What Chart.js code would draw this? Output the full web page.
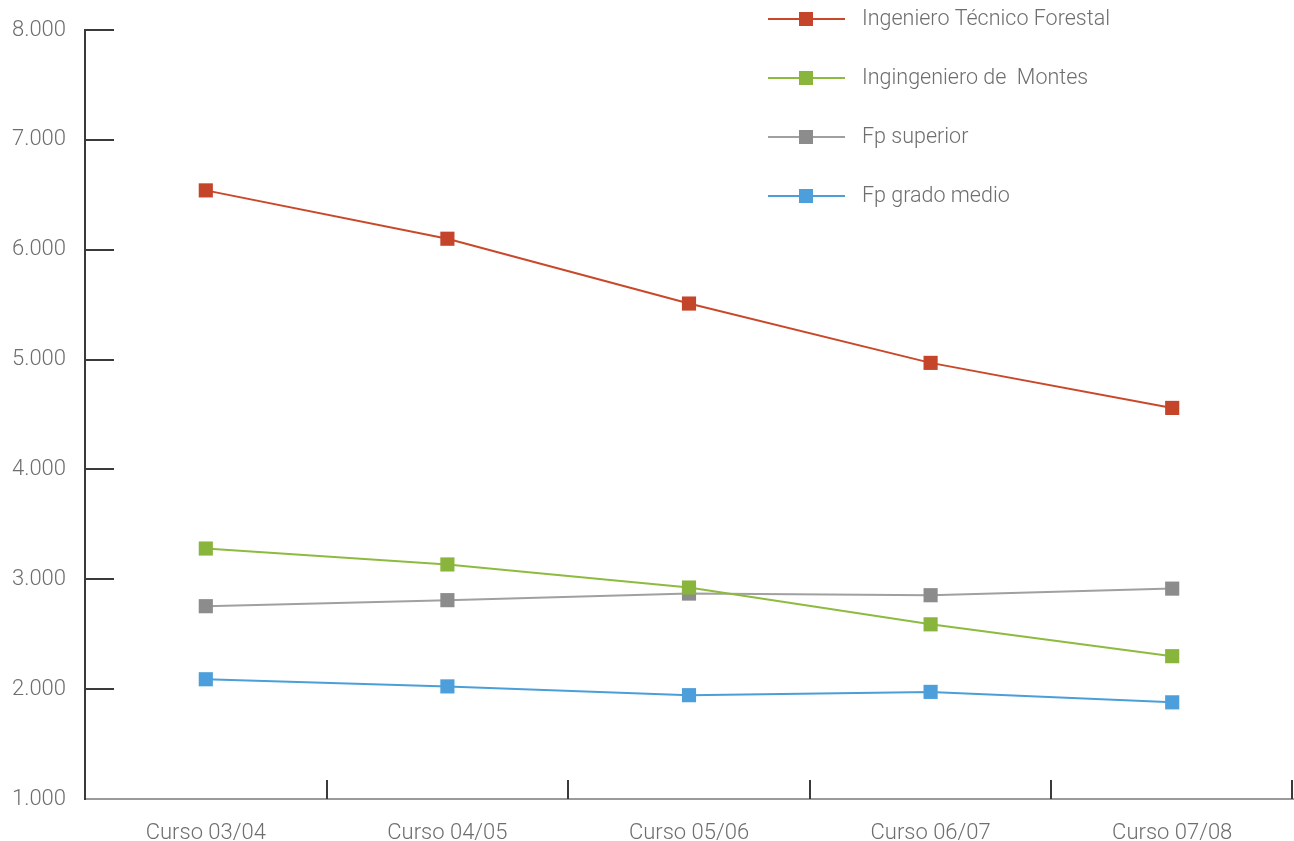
<!DOCTYPE html>
<html>
<head>
<meta charset="utf-8">
<script src="https://cdn.jsdelivr.net/npm/chart.js@4"></script>
<style>
  html, body { margin: 0; padding: 0; background: #fff; overflow: hidden; }
  #wrap { width: 1294px; height: 841px; position: relative; }
</style>
</head>
<body>
<div id="wrap"><canvas id="myChart"></canvas></div>
<script>
// Datos
const cursos = ['Curso 03/04', 'Curso 04/05', 'Curso 05/06', 'Curso 06/07', 'Curso 07/08'];
const series = ['Ingeniero Técnico Forestal', 'Ingingeniero de  Montes', 'Fp superior', 'Fp grado medio'];
const tecnicoForestal = [6540, 6100, 5510, 4970, 4560];
const ingMontes = [3280, 3135, 2925, 2590, 2300];
const fpSuperior = [2755, 2810, 2870, 2855, 2915];
const fpGradoMedio = [2090, 2025, 1945, 1975, 1880];

const lineColors = ['#c9482a', '#8dbb3f', '#a0a0a0', '#4a9fd9'];
const pointColors = ['#c4452a', '#8ab53d', '#8c8c8d', '#4c9fdb'];
const valores = [tecnicoForestal, ingMontes, fpSuperior, fpGradoMedio];

const FONT = '"Helvetica Neue", Roboto, "Liberation Sans", sans-serif';

// Marcas de los ejes dibujadas hacia dentro
const tickMarks = {
    id: 'tickMarks',
    afterDraw(chart) {
        const ctx = chart.ctx;
        const x = chart.scales.x, y = chart.scales.y;
        const area = chart.chartArea;
        ctx.save();
        ctx.strokeStyle = '#3a3a3a';
        ctx.lineWidth = 2;
        y.ticks.forEach(t => {
            const py = Math.round(y.getPixelForValue(t.value));
            if (py >= area.bottom - 1) return;
            ctx.beginPath();
            ctx.moveTo(area.left, py);
            ctx.lineTo(area.left + 29, py);
            ctx.stroke();
        });
        const half = (x.getPixelForValue(1) - x.getPixelForValue(0)) / 2;
        for (let i = 0; i < cursos.length; i++) {
            const px = Math.round(x.getPixelForValue(i) + half);
            ctx.beginPath();
            ctx.moveTo(Math.min(px, area.right - 1), area.bottom);
            ctx.lineTo(Math.min(px, area.right - 1), area.bottom - 19);
            ctx.stroke();
        }
        ctx.restore();
    }
};

// Leyenda propia
const leyenda = {
    id: 'leyenda',
    afterDraw(chart) {
        const ctx = chart.ctx;
        ctx.save();
        chart.data.datasets.forEach((ds, i) => {
            const yy = 19 + i * 59;
            ctx.strokeStyle = ds.borderColor;
            ctx.lineWidth = 2;
            ctx.beginPath();
            ctx.moveTo(768, yy);
            ctx.lineTo(845, yy);
            ctx.stroke();
            ctx.fillStyle = ds.pointBackgroundColor;
            ctx.fillRect(799, yy - 7, 14, 14);
            ctx.fillStyle = '#6e6e6e';
            ctx.font = '300 21.5px ' + FONT;
            ctx.textBaseline = 'middle';
            ctx.fillText(ds.label, 862, yy + 1);
        });
        ctx.restore();
    }
};

const ctx = document.getElementById('myChart').getContext('2d');
new Chart(ctx, {
    type: 'line',
    data: {
        labels: cursos,
        datasets: series.map((name, i) => ({
            label: name,
            data: valores[i],
            borderColor: lineColors[i],
            backgroundColor: lineColors[i],
            borderWidth: 2,
            pointStyle: 'rect',
            pointRadius: 10,
            pointHoverRadius: 10,
            pointBackgroundColor: pointColors[i],
            pointBorderColor: pointColors[i],
            pointBorderWidth: 0,
            tension: 0
        }))
    },
    options: {
        responsive: true,
        maintainAspectRatio: false,
        animation: false,
        layout: { autoPadding: false, padding: { top: 30, right: 1, left: 0, bottom: 0 } },
        plugins: {
            legend: { display: false },
            tooltip: { enabled: false }
        },
        scales: {
            x: {
                offset: true,
                grid: { display: false, drawTicks: false },
                border: { display: true, color: '#9a9a9a', width: 2 },
                ticks: {
                    color: '#6e6e6e',
                    padding: 21,
                    maxRotation: 0,
                    font: { family: FONT, size: 22, weight: 300 }
                },
                afterFit(scale) {
                    scale.height = 42;
                    scale.paddingLeft = 0;
                    scale.paddingRight = 0;
                }
            },
            y: {
                min: 1000,
                max: 8000,
                grid: { display: false, drawTicks: false },
                border: { display: true, color: '#3a3a3a', width: 2 },
                ticks: {
                    stepSize: 1000,
                    color: '#6e6e6e',
                    padding: 19,
                    font: { family: FONT, size: 22, weight: 300 },
                    callback: v => v.toString().replace(/\B(?=(\d{3})+(?!\d))/g, '.')
                },
                afterFit(scale) {
                    scale.width = 85;
                    scale.paddingTop = 0;
                    scale.paddingBottom = 0;
                }
            }
        }
    },
    plugins: [tickMarks, leyenda]
});
</script>
</body>
</html>
